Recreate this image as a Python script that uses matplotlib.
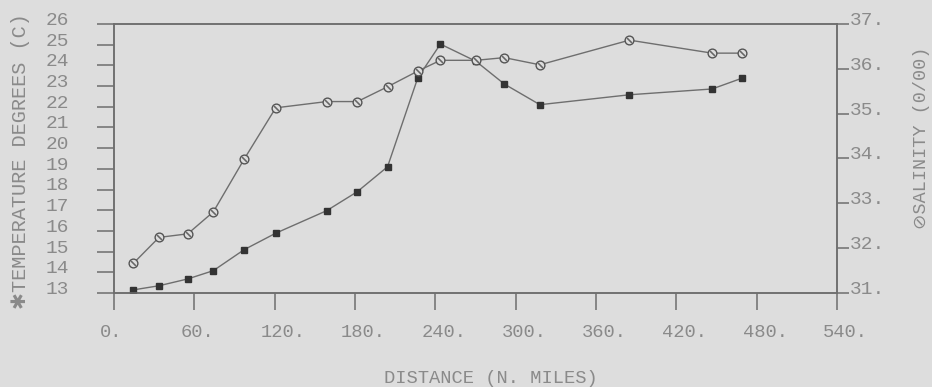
import matplotlib
matplotlib.use("Agg")
import matplotlib.pyplot as plt
import matplotlib.transforms as mtransforms

# station distance along the section (nautical miles)
distance = [14.4, 33.6, 55.1, 74.2, 97.1, 120.8, 158.9, 181.8, 204.3,
            226.9, 243.8, 270.3, 291.5, 318.1, 385.0, 446.7, 469.0]
# surface temperature (deg C), left axis
temperature = [13.15, 13.35, 13.68, 14.08, 15.09, 15.89, 16.98, 17.90, 19.10,
               23.40, 25.03, 24.20, 23.10, 22.10, 22.58, 22.86, 23.38]
# surface salinity (parts per thousand), right axis
salinity = [31.66, 32.24, 32.32, 32.81, 33.98, 35.13, 35.27, 35.27, 35.60,
            35.95, 36.19, 36.19, 36.25, 36.09, 36.64, 36.35, 36.35]

x_ticks = [0, 60, 120, 180, 240, 300, 360, 420, 480, 540]
temp_ticks = list(range(13, 27))
sal_ticks = [31, 32, 33, 34, 35, 36, 37]

BG = "#dddddd"
INK = "#6e6e6e"
TXT = "#8a8a8a"
FONT = ["Liberation Mono", "DejaVu Sans"]

plt.rcParams["font.family"] = FONT
plt.rcParams["font.size"] = 13.5

fig = plt.figure(figsize=(9.32, 3.87), dpi=100, facecolor=BG)
ax = fig.add_axes([114 / 932, 94 / 387, 723 / 932, 269 / 387])
ax.set_facecolor(BG)
ax2 = ax.twinx()

for a in (ax, ax2):
    for s in a.spines.values():
        s.set_color(INK)
        s.set_linewidth(1.1)

ax.plot(distance, temperature, color=INK, lw=1.0, marker="s", ms=3.8,
        mfc="#333333", mec="#333333", zorder=3)
ax2.plot(distance, salinity, color=INK, lw=1.0, marker="o", ms=6.3,
         mfc=BG, mec="#555555", mew=1.0, zorder=3)
ax2.plot(distance, salinity, ls="none", marker=(2, 2, 45), ms=5,
         mec="#666666", mew=0.8, zorder=4)

ax.set_xlim(0, 540)
ax.set_ylim(13, 26)
ax2.set_ylim(31, 37)

ax.set_xticks(x_ticks)
ax.set_xticklabels([f"{v}." for v in x_ticks], ha="left")
ax.set_yticks(temp_ticks)
ax.set_yticklabels([str(v) for v in temp_ticks])
ax2.set_yticks(sal_ticks)
ax2.set_yticklabels([f"{v}." for v in sal_ticks])

ax.tick_params(axis="x", direction="out", length=12.5, width=1.1, color=INK,
               labelcolor=TXT, pad=10, labelsize=13.5)
ax.tick_params(axis="y", direction="out", length=12.5, width=1.1, color=INK,
               labelcolor=TXT, pad=20, labelsize=14)
ax2.tick_params(axis="y", direction="out", length=8.5, width=1.1, color=INK,
                labelcolor=TXT, pad=1, labelsize=14)

# the plotter put its axis numbers a little above each tick,
# and started the distance numbers just left of their tick
lift = mtransforms.ScaledTranslation(0, 4 / 72, fig.dpi_scale_trans)
for lbl in ax.get_yticklabels() + ax2.get_yticklabels():
    lbl.set_transform(lbl.get_transform() + lift)
shift = mtransforms.ScaledTranslation(-0.14, 0, fig.dpi_scale_trans)
for lbl in ax.get_xticklabels():
    lbl.set_transform(lbl.get_transform() + shift)

ax.set_xlabel("DISTANCE (N. MILES)", color=TXT, va="center", fontsize=13.5)
ax.xaxis.set_label_coords(0.5215, -0.318)
ax.set_ylabel("\u2731TEMPERATURE DEGREES (C)", color=TXT, va="center",
              fontsize=14.6)
ax.yaxis.set_label_coords(-0.129, 0.49)
ax2.set_ylabel("\u2298SALINITY (0/00)", color=TXT, va="center", rotation=90,
               fontsize=13.3)
ax2.yaxis.set_label_coords(1.117, 0.576)

fig.savefig("out.png", dpi=100, facecolor=BG)
